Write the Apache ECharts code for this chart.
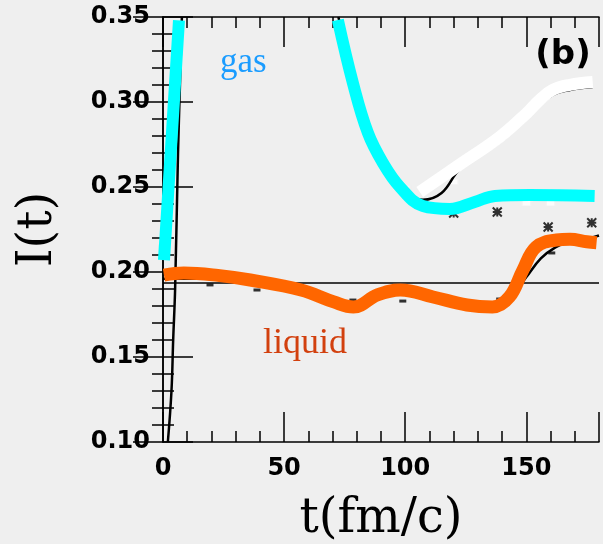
<!DOCTYPE html>
<html>
<head>
<meta charset="utf-8">
<script src="https://cdn.jsdelivr.net/npm/echarts@6/dist/echarts.min.js"></script>
<style>
html, body { margin: 0; padding: 0; background: #efefef; }
#chart { width: 603px; height: 544px; }
</style>
</head>
<body>
<div id="chart"></div>
<script>
// axis ticks
var xTicks = [0, 50, 100, 150];
var yTicks = [0.10, 0.15, 0.20, 0.25, 0.30, 0.35];

// gas fits (cyan), rising branch and falling branch
var gasRiseT = [0.4, 6.6];
var gasRiseV = [0.207, 0.348];
var gasFallT = [72.2, 78.4, 84.6, 90.8, 97.8, 107.3, 118.4, 128.7, 137, 151.4, 178.2];
var gasFallV = [0.3482, 0.3112, 0.2818, 0.2641, 0.25, 0.2388, 0.2371, 0.2412, 0.2447, 0.2453, 0.2447];

// white fit
var whiteT = [106, 122.5, 139, 150.2, 155.5, 160.9, 168, 177.4];
var whiteV = [0.2471, 0.2632, 0.2794, 0.2935, 0.3012, 0.3071, 0.3101, 0.3118];

// liquid fit (orange)
var liquidT = [0.4, 8.6, 22.6, 36, 57, 70.5, 78.6, 88.5, 98, 111.5, 125.5, 136, 143, 148.6, 154, 162.5, 168, 175, 179];
var liquidV = [0.1982, 0.1994, 0.198, 0.1953, 0.1894, 0.1824, 0.1794, 0.1865, 0.1894, 0.1853, 0.1806, 0.1794, 0.1853, 0.2012, 0.2147, 0.2188, 0.2192, 0.2178, 0.2172];

// raw data (black)
var rawRiseT = [2, 3.5, 4.2, 5, 6.2, 7, 7.8];
var rawRiseV = [0.10, 0.13, 0.16, 0.19, 0.27, 0.31, 0.35];
var rawFallT = [72.4, 78, 84, 88.5, 92.4, 99, 104, 107.3, 115, 122.5, 139, 150.2, 155.5, 160.9, 168, 177.4];
var rawFallV = [0.35, 0.318, 0.287, 0.268, 0.2585, 0.248, 0.2435, 0.2425, 0.2465, 0.2602, 0.2764, 0.2905, 0.2982, 0.3041, 0.3071, 0.3088];
var rawLiqT = [0, 20, 40, 60, 78, 88, 98, 112, 126, 136, 143, 150, 156, 162, 168, 175, 180];
var rawLiqV = [0.196, 0.196, 0.193, 0.187, 0.179, 0.185, 0.188, 0.184, 0.1795, 0.1785, 0.184, 0.197, 0.208, 0.2145, 0.218, 0.2195, 0.2215];

// scattered markers
var starT = [120, 138, 159, 177];
var starV = [0.2347, 0.2353, 0.2265, 0.229];
var dotT = [19.4, 38.8, 78.4, 99, 139, 160.5];
var dotV = [0.1924, 0.1894, 0.1835, 0.1829, 0.1841, 0.2112];
var boxT = [100, 150, 160, 120];
var boxV = [0.249, 0.2405, 0.2405, 0.253];

// reference level
var refT = [0, 180];
var refV = [0.1935, 0.1935];

(function () {
    function pairs(ts, vs) {
        return ts.map(function (t, i) { return [t, vs[i]]; });
    }

    function line(ts, vs, color, width) {
        return {
            type: 'line',
            data: pairs(ts, vs),
            showSymbol: false,
            smooth: 0.4,
            silent: true,
            lineStyle: { color: color, width: width }
        };
    }

    var axisLineStyle = { lineStyle: { color: '#000', width: 1.5 } };
    var tickStyle = { inside: true, length: 30, lineStyle: { color: '#000', width: 1.5 } };
    var minorStyle = { show: true, splitNumber: 5, length: 11, lineStyle: { color: '#000', width: 1.5 } };
    var labelFont = { fontFamily: 'DejaVu Sans', fontWeight: 'bold', fontSize: 24, color: '#000' };
    var nameFont = { fontFamily: 'DejaVu Serif', fontSize: 48, color: '#000' };

    var chart = echarts.init(document.getElementById('chart'));
    var starPath = 'path://M0,0L10,10M10,0L0,10M5,0L5,10M0,5L10,5';

    chart.setOption({
        animation: false,
        backgroundColor: '#efefef',
        grid: { left: 163, right: 4, top: 17, bottom: 102, outerBoundsMode: 'none', containLabel: false },
        xAxis: [{
            type: 'value', min: 0, max: 180, interval: 50,
            name: 't(fm/c)', nameLocation: 'middle', nameGap: 54,
            nameTextStyle: nameFont,
            axisLine: axisLineStyle, axisTick: tickStyle, minorTick: minorStyle,
            splitLine: { show: false },
            axisLabel: Object.assign({ margin: 15, formatter: function (v) {
                return xTicks.indexOf(v) >= 0 ? String(v) : '';
            } }, labelFont)
        }, {
            type: 'value', min: 0, max: 180, interval: 50, position: 'top',
            axisLine: axisLineStyle, axisTick: tickStyle, minorTick: minorStyle,
            splitLine: { show: false }, axisLabel: { show: false }
        }],
        yAxis: [{
            type: 'value', min: 0.10, max: 0.35, interval: 0.05,
            name: 'I(t)', nameLocation: 'middle', nameGap: 100,
            nameTextStyle: nameFont,
            axisLine: axisLineStyle, axisTick: tickStyle, minorTick: minorStyle,
            splitLine: { show: false },
            axisLabel: Object.assign({ margin: 13, padding: [6, 0, 0, 0], formatter: function (v) {
                return v.toFixed(2);
            } }, labelFont)
        }, {
            type: 'value', min: 0.10, max: 0.35, interval: 0.05, position: 'right',
            axisLine: axisLineStyle, axisTick: tickStyle, minorTick: minorStyle,
            splitLine: { show: false }, axisLabel: { show: false }
        }],
        series: [
            line(refT, refV, '#000', 1.5),
            line(rawRiseT, rawRiseV, '#000', 2.5),
            line(rawFallT, rawFallV, '#000', 2.5),
            line(rawLiqT, rawLiqV, '#000', 2.5),
            {
                type: 'scatter', data: pairs(starT, starV), symbol: starPath, symbolSize: 9,
                itemStyle: { color: 'none', borderColor: '#000', borderWidth: 2 }, silent: true
            },
            {
                type: 'scatter', data: pairs(dotT, dotV), symbol: 'rect', symbolSize: [7, 3],
                itemStyle: { color: '#000' }, silent: true
            },
            {
                type: 'scatter', data: pairs(boxT, boxV), symbol: 'emptyRect', symbolSize: [10, 6],
                itemStyle: { color: '#efefef', borderColor: '#000', borderWidth: 2 }, silent: true
            },
            line(whiteT, whiteV, '#ffffff', 12),
            line(gasRiseT, gasRiseV, '#00ffff', 12),
            line(gasFallT, gasFallV, '#00ffff', 12),
            line(liquidT, liquidV, '#ff6600', 13)
        ],
        graphic: [
            { type: 'text', x: 220, y: 63, style: { text: 'gas', font: '35px "Liberation Serif"', fill: '#1a9cff', align: 'left', verticalAlign: 'middle' } },
            { type: 'text', x: 263, y: 344, style: { text: 'liquid', font: '36px "Liberation Serif"', fill: '#d2400e', align: 'left', verticalAlign: 'middle' } },
            { type: 'text', x: 563, y: 55, style: { text: '(b)', font: 'bold 34px "DejaVu Sans"', fill: '#000', align: 'center', verticalAlign: 'middle' } }
        ]
    });
})();
</script>
</body>
</html>
